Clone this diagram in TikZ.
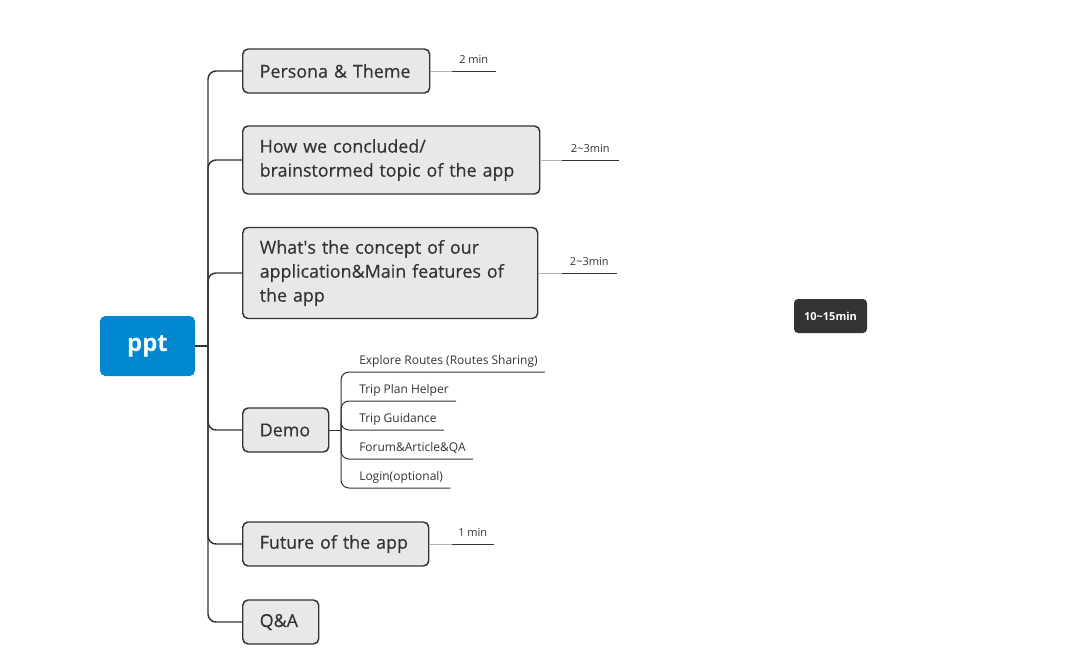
\documentclass[tikz,border=0pt]{standalone}
\usepackage{fontspec}
\setmainfont{Open Sans}
\newfontfamily\topicfont[FakeBold=0.35]{Open Sans}
\definecolor{rootblue}{HTML}{0288D1}
\definecolor{topicgray}{HTML}{E8E8E8}
\definecolor{inkdark}{HTML}{333333}

\begin{document}
\begin{tikzpicture}[x=0.75pt, y=-0.75pt,
    rootnode/.style={fill=rootblue, rounded corners=4pt, text=white, font=\fontsize{18}{22}\selectfont\bfseries, minimum width=71.25pt, minimum height=45pt},
    topic/.style={draw=inkdark, line width=1.1pt, fill=topicgray, rounded corners=4pt, anchor=west, align=left, text=inkdark, font=\topicfont\fontsize{13.4}{18}\selectfont, inner xsep=12.75pt, inner ysep=2pt, minimum height=33pt},
    subtopic/.style={anchor=south west, inner xsep=0pt, inner ysep=3pt, text height=6.75pt, text depth=2.25pt, text=inkdark, font=\fontsize{9}{11}\selectfont},
    timetag/.style={anchor=south west, inner xsep=0pt, inner ysep=4pt, text height=6pt, text depth=1.5pt, text=inkdark, font=\fontsize{8.25}{10}\selectfont},
    overview/.style={fill=inkdark, rounded corners=3pt, text=white, font=\fontsize{8.25}{10}\selectfont\bfseries, minimum width=54.75pt, minimum height=25.5pt},
    branch/.style={draw=inkdark, line width=1.1pt, rounded corners=6pt},
    subline/.style={draw=inkdark, line width=0.75pt, rounded corners=6pt},
    tagline/.style={draw=gray!60, line width=0.6pt},
    tagunder/.style={draw=inkdark, line width=0.75pt}]
    \useasboundingbox (0,0) rectangle (1084,661);

    \node[rootnode] (ppt) at (147.5,346) {ppt};
    \node[topic, text width=114.75pt] (persona) at (242,71) {Persona \& Theme};
    \node[topic, text width=197.25pt, minimum height=51pt] (topic) at (242,160) {How we concluded/\\brainstormed topic of the app};
    \node[topic, text width=195.75pt, minimum height=68.25pt] (concept) at (242,273) {What\textquotesingle s the concept of our\\application\&Main features of\\the app};
    \node[topic, text width=39pt] (demo) at (242,430) {Demo};
    \node[topic, text width=114pt] (future) at (242,544) {Future of the app};
    \node[topic, text width=31.5pt] (qa) at (242,622) {Q\&A};

    \coordinate (trunk) at (208,346);
    \draw[branch] (ppt.east) -- (trunk);
    \foreach \t in {persona,topic,concept,demo,future,qa}
        \draw[branch] (trunk) |- (\t.west);

    \node[subtopic] (explore) at (359,372) {Explore Routes (Routes Sharing)};
    \node[subtopic] (helper) at (359,401) {Trip Plan Helper};
    \node[subtopic] (guidance) at (359,430) {Trip Guidance};
    \node[subtopic] (forum) at (359,459) {Forum\&Article\&QA};
    \node[subtopic] (login) at (359,488) {Login(optional)};

    \coordinate (demojoint) at (341,430);
    \draw[subline] (demo.east) -- (demojoint);
    \foreach \s in {explore,helper,guidance,forum,login}
        \draw[subline] (demojoint) |- ([xshift=5.25pt]\s.south east);

    \node[timetag, minimum width=32.25pt] (tpersona) at (452,71) {2 min};
    \node[timetag, minimum width=42pt] (ttopic) at (562,160) {2\textasciitilde3min};
    \node[timetag, minimum width=40.5pt] (tconcept) at (562,273) {2\textasciitilde3min};
    \node[timetag, minimum width=30.75pt] (tfuture) at (452,544) {1 min};
    \draw[tagline] (persona.east) -- (tpersona.south west);
    \draw[tagline] (topic.east) -- (ttopic.south west);
    \draw[tagline] (concept.east) -- (tconcept.south west);
    \draw[tagline] (future.east) -- (tfuture.south west);
    \foreach \g in {tpersona,ttopic,tconcept,tfuture}
        \draw[tagunder] (\g.south west) -- (\g.south east);

    \node[overview] (total) at (830.5,316) {10\textasciitilde15min};
\end{tikzpicture}
\end{document}
